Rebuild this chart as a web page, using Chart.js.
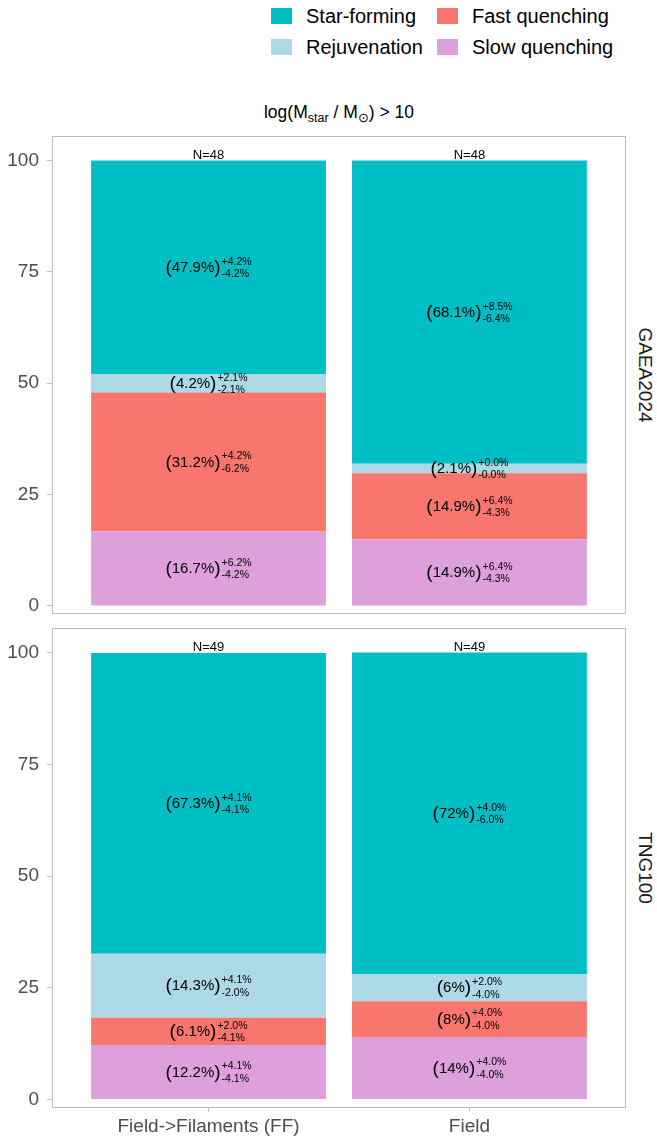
<!DOCTYPE html>
<html>
<head>
<meta charset="utf-8">
<script src="https://cdn.jsdelivr.net/npm/chart.js@4.4.1/dist/chart.umd.min.js"></script>
<style>
  body { margin: 0; background: #fff; width: 657px; height: 1140px; position: relative; overflow: hidden;
         font-family: "Liberation Sans", Arial, Helvetica, sans-serif; }
  canvas { position: absolute; left: 0; }
  .key { position: absolute; width: 21px; height: 16px; }
  .ktxt { position: absolute; font-size: 20px; line-height: 20px; color: #000; white-space: nowrap; }
  .title { position: absolute; left: 339px; top: 102px; transform: translateX(-50%); font-size: 17.5px;
           line-height: 20px; color: #000; white-space: nowrap; }
  .title sub { font-size: 12.5px; vertical-align: -4px; line-height: 0; }
  .strip { position: absolute; font-size: 19px; line-height: 20px; color: #1a1a1a; white-space: nowrap;
           transform: translate(-50%, -50%) rotate(90deg); }
</style>
</head>
<body>

<div class="key" style="left:271px;top:8px;background:#00BFC4"></div>
<div class="ktxt" style="left:306px;top:6px">Star-forming</div>
<div class="key" style="left:437px;top:8px;background:#F8766D"></div>
<div class="ktxt" style="left:472px;top:6px">Fast quenching</div>
<div class="key" style="left:271px;top:39px;background:#ADD8E6"></div>
<div class="ktxt" style="left:306px;top:37px">Rejuvenation</div>
<div class="key" style="left:437px;top:39px;background:#DDA0DD"></div>
<div class="ktxt" style="left:472px;top:37px">Slow quenching</div>

<div class="title">log(M<sub>star</sub> / M<sub>⊙</sub>) &gt; 10</div>

<div class="strip" style="left:645px;top:375px">GAEA2024</div>
<div class="strip" style="left:645px;top:868px">TNG100</div>

<canvas id="gaea" width="657" height="498" style="top:126px"></canvas>
<canvas id="tng" width="657" height="522" style="top:618px"></canvas>

<script>
// Environment categories on the x axis
const categories = ['Field->Filaments (FF)', 'Field'];
const yTicks = [0, 25, 50, 75, 100];

// Evolutionary classes, stacked from bottom to top
const classNames = ['Slow quenching', 'Fast quenching', 'Rejuvenation', 'Star-forming'];
const classColors = ['#DDA0DD', '#F8766D', '#ADD8E6', '#00BFC4'];

// GAEA2024 fractions (%) per category
const gaeaSlow = [16.7, 14.9];
const gaeaFast = [31.2, 14.9];
const gaeaRejuv = [4.2, 2.1];
const gaeaStarForming = [47.9, 68.1];
// GAEA2024 upper / lower uncertainties (%)
const gaeaSlowErr = [[6.2, 4.2], [6.4, 4.3]];
const gaeaFastErr = [[4.2, 6.2], [6.4, 4.3]];
const gaeaRejuvErr = [[2.1, 2.1], [0.0, 0.0]];
const gaeaStarFormingErr = [[4.2, 4.2], [8.5, 6.4]];
const gaeaN = [48, 48];

// TNG100 fractions (%) per category
const tngSlow = [12.2, 14];
const tngFast = [6.1, 8];
const tngRejuv = [14.3, 6];
const tngStarForming = [67.3, 72];
// TNG100 upper / lower uncertainties (%)
const tngSlowErr = [[4.1, 4.1], [4.0, 4.0]];
const tngFastErr = [[2.0, 4.1], [4.0, 4.0]];
const tngRejuvErr = [[4.1, 2.0], [2.0, 4.0]];
const tngStarFormingErr = [[4.1, 4.1], [4.0, 6.0]];
const tngN = [49, 49];

Chart.defaults.font.family = '"Liberation Sans", Arial, Helvetica, sans-serif';

const frameColor = '#bdbdbd';
const FONT = '"Liberation Sans", Arial, Helvetica, sans-serif';

function fmtPct(v) { return String(v) + '%'; }

// Panel frame around the plotting area
const panelFrame = {
  id: 'panelFrame',
  afterDraw(chart) {
    const { ctx, chartArea: a } = chart;
    ctx.save();
    ctx.strokeStyle = frameColor;
    ctx.lineWidth = 1;
    ctx.strokeRect(Math.round(a.left) + 0.5, Math.round(a.top) + 0.5,
                   Math.round(a.right - a.left) - 1, Math.round(a.bottom - a.top) - 1);
    ctx.restore();
  }
};

// Fraction labels "(v%)^{+up}_{-down}" in the middle of each segment, plus N above each bar
const barLabels = {
  id: 'barLabels',
  afterDatasetsDraw(chart) {
    const ctx = chart.ctx;
    ctx.save();
    ctx.fillStyle = '#000';
    ctx.textBaseline = 'middle';
    ctx.textAlign = 'left';
    chart.data.datasets.forEach((ds, di) => {
      const meta = chart.getDatasetMeta(di);
      meta.data.forEach((bar, i) => {
        const v = ds.data[i].y;
        const cx = bar.x;
        const cy = (bar.y + bar.base) / 2;
        const main = fmtPct(v);
        const sup = '+' + ds.err[i][0].toFixed(1) + '%';
        const sub = '-' + ds.err[i][1].toFixed(1) + '%';
        const mainFont = '15px ' + FONT;
        const parFont = '19px ' + FONT;
        const smallFont = '10.5px ' + FONT;
        ctx.font = parFont;
        const wL = ctx.measureText('(').width;
        const wR = ctx.measureText(')').width;
        ctx.font = mainFont;
        const wM = ctx.measureText(main).width;
        ctx.font = smallFont;
        const wS = Math.max(ctx.measureText(sup).width, ctx.measureText(sub).width);
        const total = wL + wM + wR + 1 + wS;
        let x = cx - total / 2;
        ctx.font = parFont;
        ctx.fillText('(', x, cy + 0.5);
        x += wL;
        ctx.font = mainFont;
        ctx.fillText(main, x, cy + 0.5);
        x += wM;
        ctx.font = parFont;
        ctx.fillText(')', x, cy + 0.5);
        x += wR + 1;
        ctx.font = smallFont;
        ctx.fillText(sup, x, cy - 5.5);
        ctx.fillText(sub, x, cy + 7);
      });
    });
    // Sample size above the top of each stacked bar
    const last = chart.data.datasets.length - 1;
    const topMeta = chart.getDatasetMeta(last);
    const counts = chart.options.plugins.barLabels.counts;
    ctx.font = '13px ' + FONT;
    ctx.textAlign = 'center';
    ctx.textBaseline = 'alphabetic';
    topMeta.data.forEach((bar, i) => {
      ctx.fillText('N=' + counts[i], bar.x, bar.y - 2);
    });
    ctx.restore();
  }
};

function buildDatasets(series, errs) {
  return series.map((vals, k) => ({
    label: classNames[k],
    data: vals.map((v, i) => ({ x: i + 1, y: v })),
    err: errs[k],
    backgroundColor: classColors[k],
    borderWidth: 0,
    categoryPercentage: 1,
    barPercentage: 0.9
  }));
}

function makePanel(id, series, errs, counts, showX) {
  new Chart(document.getElementById(id), {
    type: 'bar',
    data: { datasets: buildDatasets(series, errs) },
    options: {
      responsive: false,
      animation: false,
      devicePixelRatio: 1,
      layout: { padding: { top: 10, bottom: showX ? 0 : 10, left: 0, right: 31 } },
      plugins: {
        legend: { display: false },
        tooltip: { enabled: false },
        barLabels: { counts: counts }
      },
      scales: {
        x: {
          type: 'linear',
          stacked: true,
          offset: false,
          min: 0.4,
          max: 2.6,
          afterBuildTicks(scale) { scale.ticks = categories.map((_, i) => ({ value: i + 1 })); },
          afterFit(scale) {
            scale.height = showX ? 32.5 : 0;
            scale.paddingLeft = 0; scale.paddingRight = 0;
          },
          border: { display: false },
          grid: { display: showX, offset: false, drawOnChartArea: false, drawTicks: true,
                  tickLength: 4, color: frameColor },
          ticks: {
            display: showX,
            autoSkip: false,
            maxRotation: 0,
            padding: 4,
            color: '#4d4d4d',
            font: { size: 19 },
            callback: (v) => categories[Math.round(v) - 1] || ''
          }
        },
        y: {
          stacked: true,
          min: -1.8,
          max: 105.5,
          afterBuildTicks(scale) { scale.ticks = yTicks.map(v => ({ value: v })); },
          afterFit(scale) {
            scale.width = 52;
            scale.paddingTop = 0; scale.paddingBottom = 0;
          },
          border: { display: false },
          grid: { drawOnChartArea: false, drawTicks: true, tickLength: 5, color: frameColor },
          ticks: { padding: 8, color: '#4d4d4d', font: { size: 19 } }
        }
      }
    },
    plugins: [panelFrame, barLabels]
  });
}

makePanel('gaea',
  [gaeaSlow, gaeaFast, gaeaRejuv, gaeaStarForming],
  [gaeaSlowErr, gaeaFastErr, gaeaRejuvErr, gaeaStarFormingErr],
  gaeaN, false);

makePanel('tng',
  [tngSlow, tngFast, tngRejuv, tngStarForming],
  [tngSlowErr, tngFastErr, tngRejuvErr, tngStarFormingErr],
  tngN, true);
</script>
</body>
</html>
